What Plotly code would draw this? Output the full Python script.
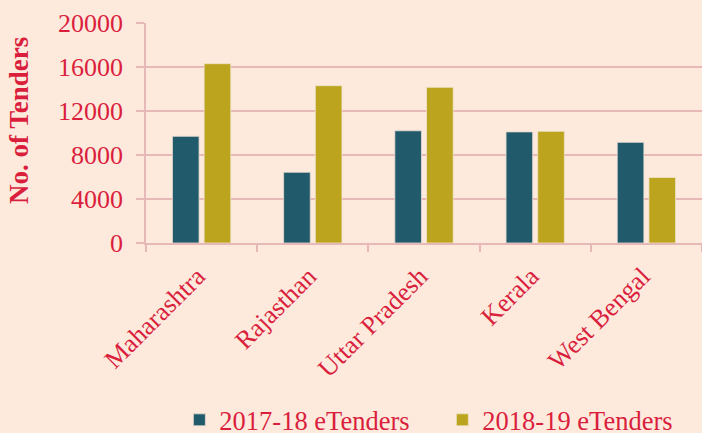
import plotly.graph_objects as go

states = ["Maharashtra", "Rajasthan", "Uttar Pradesh", "Kerala", "West Bengal"]
tenders_2017_18 = [9700, 6430, 10200, 10100, 9150]
tenders_2018_19 = [16300, 14300, 14150, 10150, 5950]
y_ticks = [0, 4000, 8000, 12000, 16000, 20000]

BG = "#FDEADD"
RED = "#DA1F3D"
GRID = "#E6B9B8"
FONT = "Liberation Serif"

fig = go.Figure()
fig.add_trace(go.Bar(x=states, y=tenders_2017_18, name="2017-18 eTenders",
                     marker=dict(color="#215A6A", line=dict(color="#E8DCD2", width=0.8))))
fig.add_trace(go.Bar(x=states, y=tenders_2018_19, name="2018-19 eTenders",
                     marker=dict(color="#BCA41E", line=dict(color="#EDE3C8", width=0.8))))

fig.update_layout(
    width=702, height=433,
    paper_bgcolor=BG, plot_bgcolor=BG,
    margin=dict(l=146, r=0, t=23, b=190, autoexpand=False),
    barmode="group", bargap=0.43, bargroupgap=0.16,
    font=dict(family=FONT, size=26, color=RED),
    showlegend=True,
    legend=dict(orientation="h", x=0.06, xanchor="left", y=-0.805, yanchor="middle",
                font=dict(family=FONT, size=26.5, color=RED), bgcolor="rgba(0,0,0,0)",
                itemwidth=30, tracegroupgap=0, entrywidth=218, entrywidthmode="pixels"),
    annotations=[dict(text="<b>No. of Tenders</b>", textangle=-90, showarrow=False,
                      xref="paper", yref="paper", x=(19 - 146) / 556, y=(243 - 121) / 220,
                      xanchor="center", yanchor="middle",
                      font=dict(family=FONT, size=27, color=RED))],
)
fig.update_xaxes(
    type="category", showline=True, linecolor=GRID, linewidth=1.5, automargin=False,
    ticks="outside", tickson="boundaries", ticklen=7, tickcolor=GRID, tickwidth=1.5,
    tickangle=-45, tickfont=dict(family=FONT, size=26, color=RED),
    ticklabelshift=-4, ticklabelstandoff=6,
    showgrid=False,
)
fig.update_yaxes(
    range=[0, 20000], tickvals=y_ticks, ticktext=[str(v) for v in y_ticks],
    showline=True, linecolor=GRID, linewidth=1.5, automargin=False,
    ticks="outside", ticklen=8, tickcolor=GRID, tickwidth=1.5,
    showgrid=True, gridcolor=GRID, gridwidth=1.5, zeroline=False,
    tickfont=dict(family=FONT, size=26, color=RED), ticklabelstandoff=8,
)

fig.write_html("out.html", config={"displayModeBar": False},
               post_script="document.body.style.margin='0';document.body.style.padding='0';")
